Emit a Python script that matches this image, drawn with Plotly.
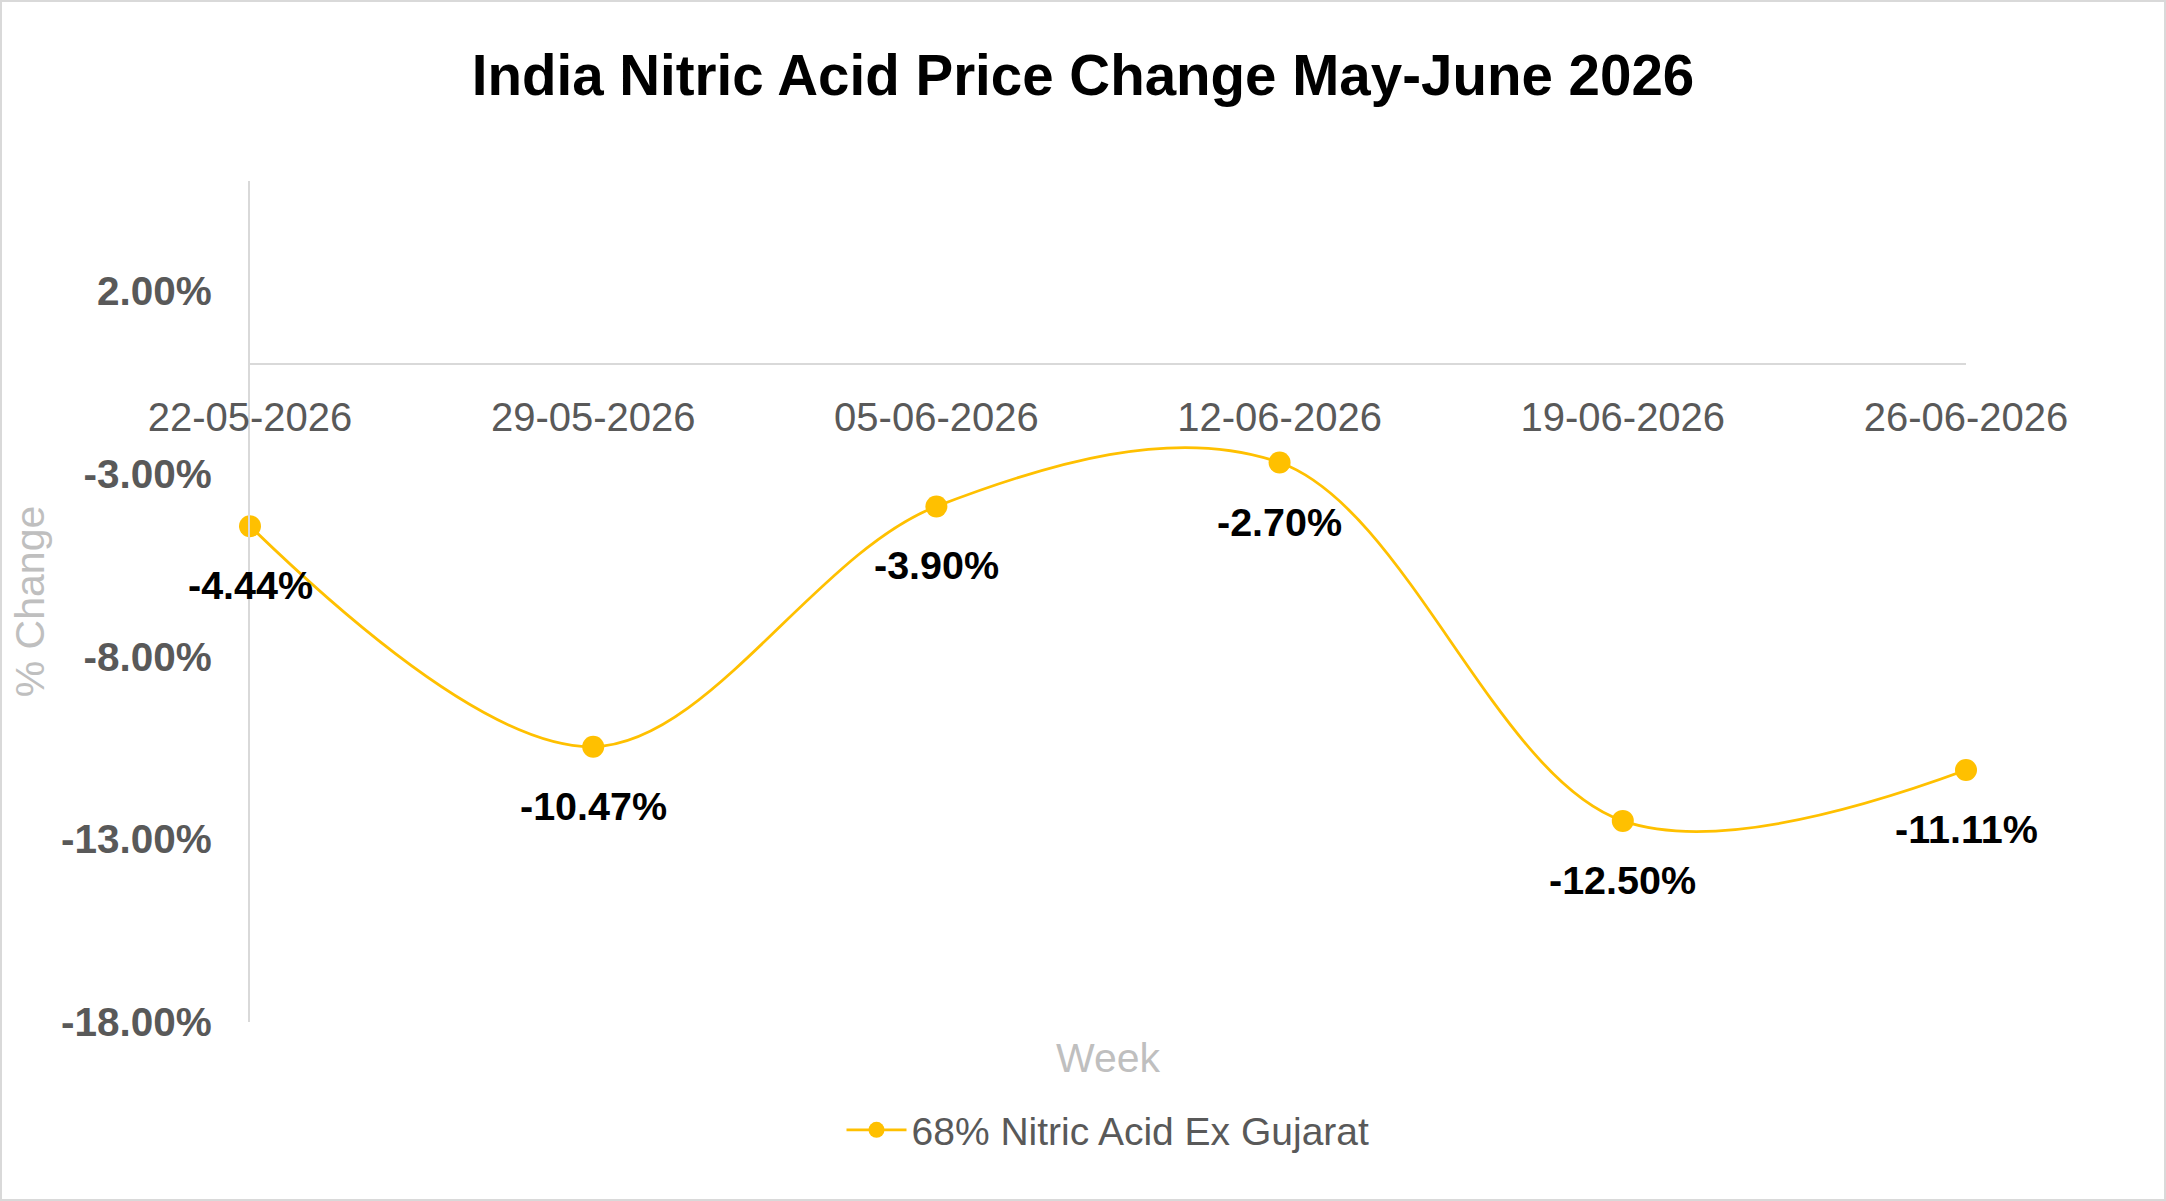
import plotly.graph_objects as go

weeks = ["22-05-2026", "29-05-2026", "05-06-2026", "12-06-2026", "19-06-2026", "26-06-2026"]
pct_change = [-4.44, -10.47, -3.90, -2.70, -12.50, -11.11]
series_name = "68% Nitric Acid Ex Gujarat"
y_ticks = [2, -3, -8, -13, -18]
y_tick_text = [f"{v:.2f}%" for v in y_ticks]

W, H = 2166, 1201
L, R, T, B = 250, 200, 181, 179
pw, ph = W - L - R, H - T - B
ymin, ymax = -18, 5

fig = go.Figure()
fig.add_trace(go.Scatter(
    x=weeks, y=pct_change, name=series_name,
    mode="lines+markers", cliponaxis=False,
    line=dict(color="#FFC000", width=2.8, shape="spline", smoothing=1.0),
    marker=dict(color="#FFC000", size=22, line=dict(width=0)),
))

for w, v in zip(weeks, pct_change):
    fig.add_annotation(x=w, y=v, text=f"{v:.2f}%", showarrow=False,
                       yshift=-59, xanchor="center", yanchor="middle",
                       font=dict(family="Liberation Sans", size=39.5, color="#000000", weight="bold"))

fig.add_annotation(xref="paper", yref="paper", x=0.5, y=-36 / ph, text="Week",
                   showarrow=False, xanchor="center", yanchor="middle",
                   font=dict(family="Liberation Sans", size=41, color="#BFBFBF"))

fig.add_shape(type="rect", xref="paper", yref="paper",
              x0=-(L - 1) / pw, x1=1 + (R - 1) / pw, y0=-(B - 1) / ph, y1=1 + (T - 1) / ph,
              line=dict(color="#D9D9D9", width=2), fillcolor="rgba(0,0,0,0)", layer="below")

fig.update_layout(
    width=W, height=H,
    margin=dict(l=L, r=R, t=T, b=B),
    paper_bgcolor="white", plot_bgcolor="white",
    title=dict(text="India Nitric Acid Price Change May-June 2026",
               x=0.5, xref="container", xanchor="center",
               y=1 - 75 / H, yref="container", yanchor="middle",
               font=dict(family="Liberation Sans", size=56.5, color="#000000", weight="bold")),
    showlegend=True,
    legend=dict(orientation="h", x=0.5, xanchor="center", y=-108 / ph, yanchor="middle",
                font=dict(family="Liberation Sans", size=39, color="#595959"),
                itemwidth=60, bgcolor="rgba(0,0,0,0)"),
    xaxis=dict(type="category", range=[0, 5], showgrid=False, zeroline=False,
               showline=True, linecolor="#D9D9D9", linewidth=2,
               anchor="free", position=(0 - ymin) / (ymax - ymin),
               ticks="", ticklabelstandoff=18,
               tickfont=dict(family="Liberation Sans", size=40, color="#595959")),
    yaxis=dict(range=[ymin, ymax], showgrid=False, zeroline=False,
               showline=True, linecolor="#D9D9D9", linewidth=2,
               tickmode="array", tickvals=y_ticks, ticktext=y_tick_text,
               ticks="", ticklabelstandoff=28,
               tickfont=dict(family="Liberation Sans", size=40.5, color="#595959", weight="bold"),
               title=dict(text="% Change", standoff=4,
                          font=dict(family="Liberation Sans", size=41, color="#BFBFBF"))),
)

fig.write_html("out.html")
